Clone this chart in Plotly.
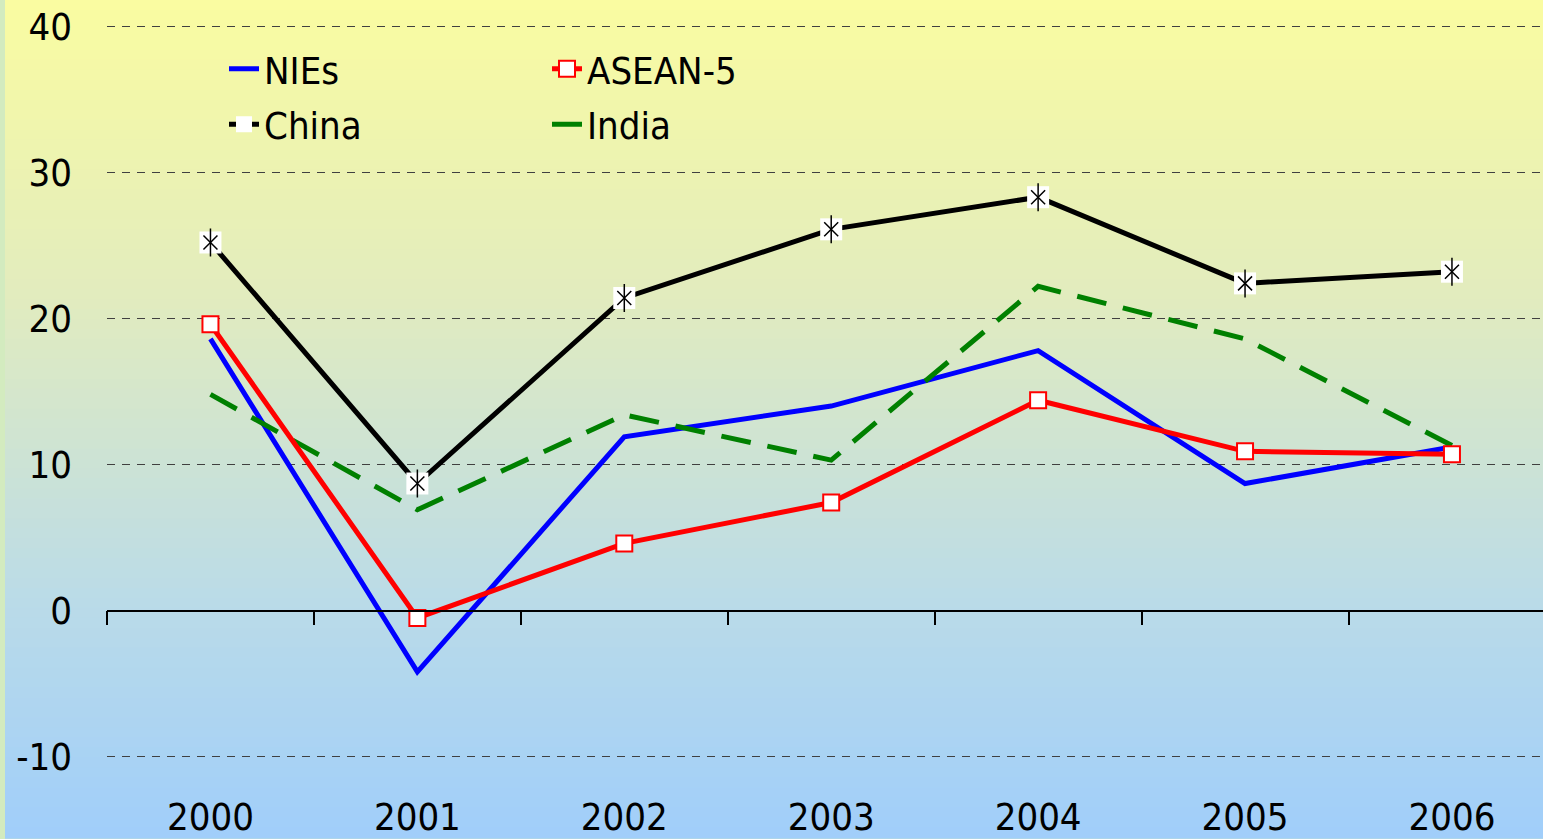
import plotly.graph_objects as go

# ---- data ----
years = ["2000", "2001", "2002", "2003", "2004", "2005", "2006"]
nies = [18.6, -4.2, 11.9, 14.0, 17.8, 8.7, 11.2]
asean5 = [19.6, -0.5, 4.6, 7.4, 14.4, 10.9, 10.7]
china = [25.2, 8.7, 21.4, 26.1, 28.3, 22.4, 23.2]
india = [14.8, 6.9, 13.4, 10.3, 22.2, 18.6, 11.3]
y_ticks = [-10, 0, 10, 20, 30, 40]

# ---- layout constants ----
W, H = 1543, 839
ML = 107
Y_MIN, Y_MAX = -15.5, 41.8
X_MIN, X_MAX = -0.5, 6.44
FONT = "Tahoma, 'DejaVu Sans Condensed', 'Liberation Sans', sans-serif"

xs = list(range(len(years)))
zero_frac = (0 - Y_MIN) / (Y_MAX - Y_MIN)

fig = go.Figure()

fig.add_trace(go.Scatter(x=xs, y=nies, name="NIEs", mode="lines",
                         line=dict(color="#0000ff", width=5),
                         legend="legend", legendgroup="a"))
fig.add_trace(go.Scatter(x=xs, y=india, name="India", mode="lines",
                         line=dict(color="#008000", width=5, dash="30px,17px"),
                         legend="legend2", legendrank=2, legendgroup="d"))
fig.add_trace(go.Scatter(x=xs, y=asean5, name="ASEAN-5", mode="lines+markers",
                         line=dict(color="#ff0000", width=5),
                         marker=dict(symbol="square", size=16, color="white",
                                     line=dict(color="#ff0000", width=2)),
                         legend="legend2", legendrank=1, legendgroup="c"))
fig.add_trace(go.Scatter(x=xs, y=china, name="China", mode="lines+markers",
                         line=dict(color="black", width=5),
                         marker=dict(symbol="square", size=22, color="white",
                                     line=dict(width=0)),
                         legend="legend", legendgroup="b"))
# asterisk marker drawn over the white square
fig.add_trace(go.Scatter(x=xs, y=china, mode="markers", showlegend=False,
                         marker=dict(symbol="x-thin-open", size=14, color="black",
                                     line=dict(width=1.5, color="black"))))
fig.add_trace(go.Scatter(x=xs, y=china, mode="markers", showlegend=False,
                         marker=dict(symbol="line-ns-open", size=20, color="black",
                                     line=dict(width=1.5, color="black"))))

# background gradient (yellow -> blue), plus thin green strip at left
plot_w = W - ML
stops = [(0.0, (250, 252, 160)), (0.35, (226, 236, 190)),
         (0.72, (186, 219, 232)), (1.0, (160, 206, 250))]


def grad(t):
    for (t0, c0), (t1, c1) in zip(stops[:-1], stops[1:]):
        if t0 <= t <= t1:
            f = (t - t0) / (t1 - t0)
            return "rgb(%d,%d,%d)" % tuple(round(a + (b - a) * f) for a, b in zip(c0, c1))
    return "rgb(%d,%d,%d)" % stops[-1][1]


shapes = []
n = 84
for i in range(n):
    t = (i + 0.5) / n
    shapes.append(dict(type="rect", xref="paper", yref="paper", layer="below",
                       x0=(5 - ML) / plot_w, x1=1, y0=1 - (i + 1) / n - 0.002, y1=1 - i / n,
                       fillcolor=grad(t), line=dict(width=0)))

fig.update_layout(
    width=W, height=H,
    margin=dict(l=ML, r=0, t=0, b=0),
    paper_bgcolor="#d3ebbf",
    plot_bgcolor="rgba(0,0,0,0)",
    font=dict(family=FONT, size=38, color="black"),
    shapes=shapes,
    xaxis=dict(range=[X_MIN, X_MAX], anchor="free", position=zero_frac,
               showline=True, linecolor="black", linewidth=1.5,
               ticks="outside", ticklen=14, tickwidth=1.5, tickcolor="black",
               tickvals=[i - 0.5 for i in range(len(years) + 1)],
               showticklabels=False, showgrid=False, zeroline=False),
    xaxis2=dict(range=[X_MIN, X_MAX], overlaying="x", anchor="y", side="bottom",
                tickvals=xs, ticktext=years, ticklabelposition="inside",
                ticklabelstandoff=-4, tickfont=dict(color="black", size=38),
                showline=False, ticks="", showgrid=False, zeroline=False),
    yaxis=dict(range=[Y_MIN, Y_MAX], tickvals=y_ticks, ticktext=[str(v) for v in y_ticks],
               tickfont=dict(color="black", size=38),
               showline=False, zeroline=False,
               showgrid=True, gridcolor="#404040", gridwidth=1, griddash="8px,7px",
               ticks="", ticklabelstandoff=34),
    legend=dict(x=(224 - ML) / plot_w, y=0.955, xanchor="left", yanchor="top",
                bgcolor="rgba(0,0,0,0)", font=dict(size=38, color="black"), tracegroupgap=3),
    legend2=dict(x=(547 - ML) / plot_w, y=0.955, xanchor="left", yanchor="top",
                 bgcolor="rgba(0,0,0,0)", font=dict(size=38, color="black"), tracegroupgap=3),
    showlegend=True,
)

# dummy trace so xaxis2 is drawn
fig.add_trace(go.Scatter(x=[None], y=[None], xaxis="x2", showlegend=False, hoverinfo="skip"))

fig.write_html("out.html", config={"displayModeBar": False},
               post_script="document.body.style.margin='0';document.body.style.overflow='hidden';")
